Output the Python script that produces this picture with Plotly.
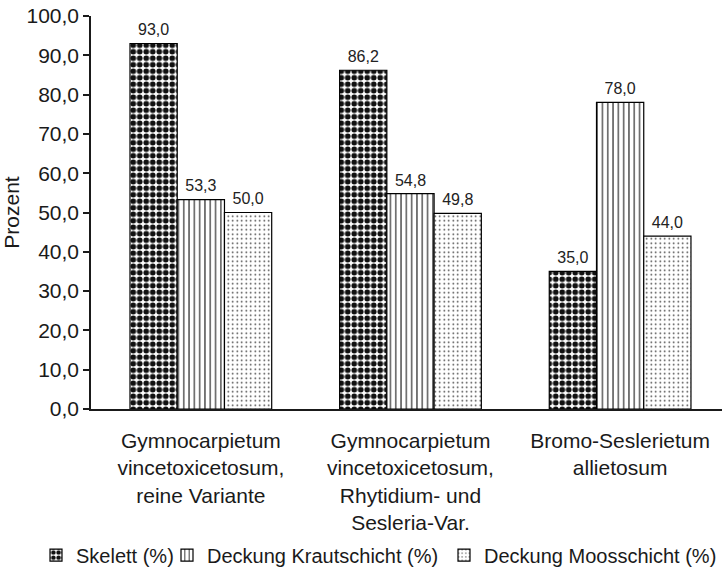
import plotly.graph_objects as go

categories = [
    "Gymnocarpietum<br>vincetoxicetosum,<br>reine Variante",
    "Gymnocarpietum<br>vincetoxicetosum,<br>Rhytidium- und<br>Sesleria-Var.",
    "Bromo-Seslerietum<br>allietosum",
]
series_names = ["Skelett (%)", "Deckung Krautschicht (%)", "Deckung Moosschicht (%)"]
skelett = [93.0, 86.2, 35.0]
kraut = [53.3, 54.8, 78.0]
moos = [50.0, 49.8, 44.0]
y_ticks = [0, 10, 20, 30, 40, 50, 60, 70, 80, 90, 100]

FONT = "Liberation Sans, Arial, sans-serif"
INK = "#1a1a1a"

patterns = [
    dict(shape=".", fgcolor="#111111", bgcolor="white", size=6.5, solidity=0.6, fillmode="replace"),
    dict(shape="|", fgcolor="#111111", bgcolor="white", size=5.3, solidity=0.2, fillmode="replace"),
    dict(shape=".", fgcolor="#333333", bgcolor="white", size=4.5, solidity=0.1, fillmode="replace"),
]
values = [skelett, kraut, moos]
legends = ["legend", "legend2", "legend3"]

fig = go.Figure()
for i, (name, vals, pat, lg) in enumerate(zip(series_names, values, patterns, legends)):
    fig.add_trace(go.Bar(
        x=categories, y=vals, name=name,
        marker=dict(color="white", pattern=pat, line=dict(color="black", width=1.2)),
        offsetgroup=str(i), legend=lg,
        hovertemplate=name + ": %{y:.1f}<extra></extra>",
    ))
# value labels, grouped like the bars, drawn as scatter text above each bar top
for i, (name, vals) in enumerate(zip(series_names, values)):
    fig.add_trace(go.Scatter(
        x=categories, y=vals, mode="markers+text",
        marker=dict(size=5, opacity=0, color="white"),
        texttemplate="%{y:.1f}", textposition="top center",
        textfont=dict(family=FONT, size=16, color="#222222"),
        offsetgroup=str(i), showlegend=False, hoverinfo="skip", cliponaxis=False,
    ))

leg_common = dict(orientation="h", xref="container", yref="container",
                  xanchor="left", yanchor="middle", y=0.043,
                  bgcolor="rgba(0,0,0,0)", borderwidth=0,
                  font=dict(family=FONT, size=20, color=INK))

fig.update_layout(
    width=722, height=580,
    margin=dict(l=91, r=0, t=16, b=171),
    paper_bgcolor="white", plot_bgcolor="white",
    separators=",.",
    barmode="group", bargap=0.324, bargroupgap=0,
    scattermode="group", scattergap=0.324,
    font=dict(family=FONT, size=21, color=INK),
    showlegend=True,
    legend=dict(x=36 / 722, **leg_common),
    legend2=dict(x=167 / 722, **leg_common),
    legend3=dict(x=444 / 722, **leg_common),
    xaxis=dict(
        type="category", range=[-0.524, 2.486],
        showline=True, linecolor=INK, linewidth=1.5,
        ticks="", showgrid=False, zeroline=False,
        tickfont=dict(family=FONT, size=21, color=INK),
        ticklabelstandoff=12,
    ),
    yaxis=dict(
        range=[0, 100], tickvals=y_ticks, tickformat=".1f",
        showline=True, linecolor=INK, linewidth=1.5,
        ticks="outside", ticklen=6, tickwidth=1.5, tickcolor=INK,
        showgrid=False, zeroline=False,
        tickfont=dict(family=FONT, size=21, color=INK),
        title=dict(text="Prozent", font=dict(family=FONT, size=21, color=INK), standoff=4),
    ),
)

fig.write_html("out.html", config={"displayModeBar": False},
               post_script="document.body.style.margin='0px';")
